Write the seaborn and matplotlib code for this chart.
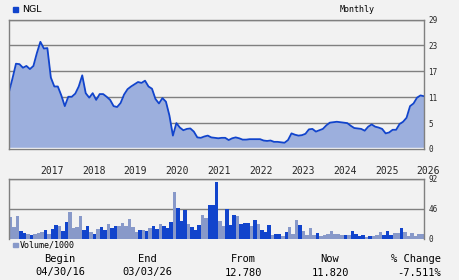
import numpy as np
import pandas as pd
import matplotlib
matplotlib.use("Agg")
import matplotlib.pyplot as plt
import seaborn as sns
from matplotlib.patches import Rectangle

# ---------------- data ----------------
price = [12.8, 15.8, 19.1, 19.0, 18.2, 18.6, 17.9, 18.6, 21.5, 24.0,
         22.5, 22.6, 16.0, 14.0, 14.0, 12.0, 9.6, 11.7, 11.7, 12.4,
         14.0, 16.5, 12.5, 11.5, 12.5, 11.0, 12.3, 12.3, 11.7, 11.0,
         9.6, 9.4, 10.3, 12.2, 13.4, 14.0, 14.5, 15.0, 14.8, 15.3,
         14.0, 13.5, 11.2, 10.2, 11.4, 10.6, 7.5, 3.0, 5.8, 4.8,
         4.2, 4.5, 4.6, 3.9, 2.6, 2.5, 2.8, 3.0, 2.6, 2.5,
         2.4, 2.5, 2.5, 2.0, 2.4, 2.6, 2.4, 2.1, 2.1, 2.2,
         2.2, 2.2, 2.2, 1.9, 1.8, 1.9, 1.6, 1.6, 1.5, 1.4,
         2.0, 3.5, 3.2, 3.0, 3.1, 3.4, 4.4, 4.5, 3.9, 4.2,
         4.5, 5.3, 5.9, 6.0, 6.1, 6.0, 5.9, 5.8, 5.2, 4.7,
         4.6, 4.5, 4.1, 5.0, 5.5, 5.0, 4.8, 4.5, 3.5, 3.7,
         4.3, 4.3, 5.6, 6.1, 7.0, 9.6, 10.2, 11.5, 12.0, 11.82]

volume = [34, 18, 35, 12, 9, 8, 6, 8, 9, 11,
          14, 8, 15, 21.5, 20, 12, 26, 41, 17, 18,
          35, 14, 20, 11, 8, 15, 18, 14, 23, 17,
          20, 20, 24.5, 20, 30.7, 18.4, 10.7, 13.8, 13.8, 12.3,
          16.9, 20, 15.3, 23, 20, 16.9, 26, 72, 47.5, 27.6,
          44.5, 23, 18.4, 13.8, 21.5, 36.8, 32, 52, 52, 87,
          27.6, 20, 46, 21.5, 36.8, 35, 23, 24.5, 24.5, 20,
          29, 23, 13.8, 10.7, 21.5, 6.1, 7.7, 7.7, 4.6, 10.7,
          18.4, 7.7, 29, 21.5, 12.3, 6.1, 16.9, 6.1, 9.2, 5,
          6.1, 7.7, 12.3, 7.7, 7.7, 6.1, 6.1, 6.1, 12.3, 7.7,
          4.6, 6.1, 3.1, 4.6, 4.6, 6.1, 10.7, 6.1, 12.3, 6.1,
          9.2, 9.2, 16.9, 10.7, 4.6, 9.2, 4.6, 7.7, 7.7]

vol_dir = list("ggg" "bbgbggg" "bgbbgbbggg" "gbbgbgbbgb" "bggggggbgb"
               "gbbgbbbgbb" "bgbbbggbbb" "ggbbbgbbbg" "bgbbbgbbgb"
               "gggbggggbg" "ggggggbgbb" "bbgbgggbbb" "ggbggggggg")

years = ["2017", "2018", "2019", "2020", "2021",
         "2022", "2023", "2024", "2025", "2026"]
price_ticks = [0, 5.8, 11.6, 17.4, 23.2, 29]
price_tick_labels = ["0", "5", "11", "17", "23", "29"]
vol_ticks = [0, 46, 92]
vol_tick_labels = ["0", "46", "92"]
summary_labels = ["Begin", "End", "From", "Now", "% Change"]
summary_values = ["04/30/16", "03/03/26", "12.780", "11.820", "-7.511%"]
symbol = "NGL"

# ---------------- styling ----------------
BG = "#f2f2f2"
BLUE = "#1144cc"
LIGHT = "#8899c9"
FILL = "#9cafdd"
GRID = "#808080"

sns.set_theme(style="white")
plt.rcParams["font.family"] = ["DejaVu Sans Mono", "DejaVu Sans"]

W, H = 460, 280
fig = plt.figure(figsize=(W / 100, H / 100), dpi=100, facecolor=BG)

def fx(px):
    return px / W

def fy(py):
    return 1 - py / H

ax = fig.add_axes([fx(9), fy(149), fx(415), 129.5 / H], facecolor=BG)
axv = fig.add_axes([fx(9), fy(239), fx(415), 60 / H], facecolor=BG)

# ---------------- price ----------------
dfp = pd.DataFrame({"m": np.arange(len(price)) - 0.5, "price": price})
ax.fill_between(dfp["m"], dfp["price"], 0, color=FILL, lw=0, zorder=2)
sns.lineplot(data=dfp, x="m", y="price", ax=ax, color=BLUE, lw=1.3, zorder=4)
ax.axhline(0.25, color="white", lw=1, zorder=3)
ax.set_xlim(-0.5, len(price) - 1.5)
ax.set_ylim(0, 29)
ax.set_yticks(price_ticks)
ax.set_yticklabels(price_tick_labels, fontsize=5.5)
ax.yaxis.tick_right()
ax.grid(axis="y", color=GRID, lw=1, zorder=1)
ax.set_axisbelow(True)
year_pos = [(int(y) - 2017) * 12 + 8.4 for y in years]
ax.set_xticks(year_pos)
ax.set_xticklabels(years, ha="left", fontsize=7)
ax.tick_params(axis="x", length=0, pad=12)
ax.tick_params(axis="y", length=0, pad=3)
ax.set_xlabel("")
ax.set_ylabel("")
for s in ax.spines.values():
    s.set_color(GRID)
    s.set_linewidth(1)
    s.set_zorder(5)

# ---------------- volume ----------------
dfv = pd.DataFrame({"m": np.arange(len(volume)), "vol": volume,
                    "dir": vol_dir[:len(volume)]})
sns.barplot(data=dfv, x="m", y="vol", hue="dir", palette={"b": BLUE, "g": LIGHT},
            dodge=False, width=1.0, linewidth=0, saturation=1,
            legend=False, ax=axv, zorder=2)
axv.set_xlim(-0.5, len(volume) - 0.5)
axv.set_ylim(0, 92)
axv.set_yticks(vol_ticks)
axv.set_yticklabels(vol_tick_labels, fontsize=5.5)
axv.yaxis.tick_right()
axv.set_xticks([])
axv.grid(axis="y", color=GRID, lw=1, zorder=0)
axv.set_axisbelow(True)
axv.tick_params(axis="y", length=0, pad=3)
axv.set_xlabel("")
axv.set_ylabel("")
for k, s in axv.spines.items():
    s.set_color(GRID)
    s.set_linewidth(1)
axv.spines["bottom"].set_visible(False)

# ---------------- texts ----------------
fig.patches.append(Rectangle((fx(13), fy(11.5)), fx(4.5), 4.5 / H,
                             transform=fig.transFigure, color=BLUE))
fig.text(fx(22), fy(9.5), symbol, family="DejaVu Sans", fontsize=6.8,
         va="center", ha="left", color="black")
fig.text(fx(357), fy(9.5), "Monthly", fontsize=6, va="center", ha="center",
         color="black")
fig.patches.append(Rectangle((fx(13), fy(247)), fx(4.5), 4.5 / H,
                             transform=fig.transFigure, color=LIGHT))
fig.text(fx(20), fy(245), "Volume/1000", fontsize=6, va="center", ha="left",
         color="black")

xs = [fx(60), fx(147), fx(243), fx(330), fx(441)]
has = ["center", "center", "center", "center", "right"]
for x, h, lab, val in zip(xs, has, summary_labels, summary_values):
    fig.text(x, fy(259), lab, fontsize=7.5, ha=h, va="center", color="black")
    fig.text(x, fy(272.5), val, fontsize=7.5, ha=h, va="center", color="black")

fig.savefig("out.png", dpi=100, facecolor=BG)
